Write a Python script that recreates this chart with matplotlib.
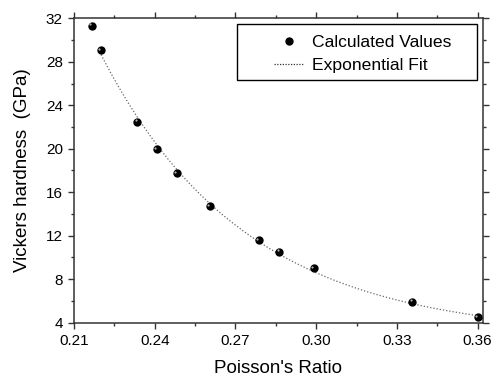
import numpy as np
import matplotlib
matplotlib.use('Agg')
import matplotlib.pyplot as plt
from matplotlib.ticker import MultipleLocator
from matplotlib.transforms import offset_copy
from matplotlib.patches import Rectangle
from matplotlib.lines import Line2D

plt.rcParams['font.family'] = ['Liberation Sans', 'DejaVu Sans']

# values
poisson = [0.2166, 0.2200, 0.2335, 0.2407, 0.2482, 0.2605,
           0.2786, 0.2863, 0.2992, 0.3357, 0.3600]
hardness = [31.32, 29.08, 22.49, 19.95, 17.74, 14.73,
            11.60, 10.53, 9.00, 5.93, 4.50]
fit_start = 0.2195
fit_end = 0.3600

x = np.array(poisson)
y = np.array(hardness)

# exponential decay with offset, fitted to points from the 2nd on
xf, yf = x[1:], y[1:]
best = None
for y0 in np.linspace(-5, 4.4, 941):
    b, lna = np.polyfit(xf, np.log(yf - y0), 1)
    err = np.sum((np.exp(lna + b * xf) + y0 - yf) ** 2)
    if best is None or err < best[0]:
        best = (err, y0, b, lna)
_, y0, b, lna = best
xs = np.linspace(fit_start, fit_end, 300)
ys = np.exp(lna + b * xs) + y0

fig = plt.figure(figsize=(4.95, 3.76), dpi=100)
ax = fig.add_axes([74 / 495, 1 - 322.7 / 376, (483 - 74) / 495, (322.7 - 18.3) / 376])

ax.plot(xs, ys, linestyle=(0, (1, 1.6)), color='#666666', linewidth=0.9, zorder=2)
ax.plot(x, y, 'o', color='black', markersize=6, markeredgewidth=0, zorder=3)
hl = offset_copy(ax.transData, fig=fig, x=-1.1, y=1.1, units='points')
ax.plot(x, y, 'o', color='#b0b0b0', markersize=1.6, markeredgewidth=0,
        transform=hl, zorder=4)

ax.set_xlim(0.21, 0.362)
ax.set_ylim(4, 32)
ax.xaxis.set_major_locator(MultipleLocator(0.03))
ax.xaxis.set_minor_locator(MultipleLocator(0.015))
ax.yaxis.set_major_locator(MultipleLocator(4))
ax.yaxis.set_minor_locator(MultipleLocator(2))
ax.xaxis.set_major_formatter(plt.FuncFormatter(lambda v, p: f'{v:.2f}'))

ax.tick_params(which='both', direction='out', top=True, right=True,
               colors='#333333', labelcolor='black', labelsize=11, width=1)
ax.tick_params(which='major', length=4.5, pad=3.5)
ax.tick_params(which='minor', length=2.5)
for s in ax.spines.values():
    s.set_linewidth(1.1)
    s.set_color('#333333')

ax.set_xlabel("Poisson's Ratio", fontsize=13.5, labelpad=9)
ax.set_ylabel("Vickers hardness  (GPa)", fontsize=13.5, labelpad=11)

# legend box + entries
fig.patches.append(Rectangle((237 / 495, 1 - 80 / 376), 240 / 495, 56 / 376,
                             transform=fig.transFigure, fill=False,
                             edgecolor='black', linewidth=1.0))
handles = [Line2D([], [], marker='o', linestyle='none', color='black',
                  markersize=6, markeredgewidth=0),
           Line2D([], [], linestyle=(0, (1, 1.2)), color='#333333', linewidth=0.9)]
ax.legend(handles, ['Calculated Values', 'Exponential Fit'], frameon=False,
          loc='upper left', bbox_to_anchor=(274 / 495, 1 - 35 / 376),
          bbox_transform=fig.transFigure, borderpad=0, borderaxespad=0,
          handlelength=1.7, handletextpad=0.45, labelspacing=0.42,
          fontsize=12.6)

fig.savefig('out.png', dpi=100)
